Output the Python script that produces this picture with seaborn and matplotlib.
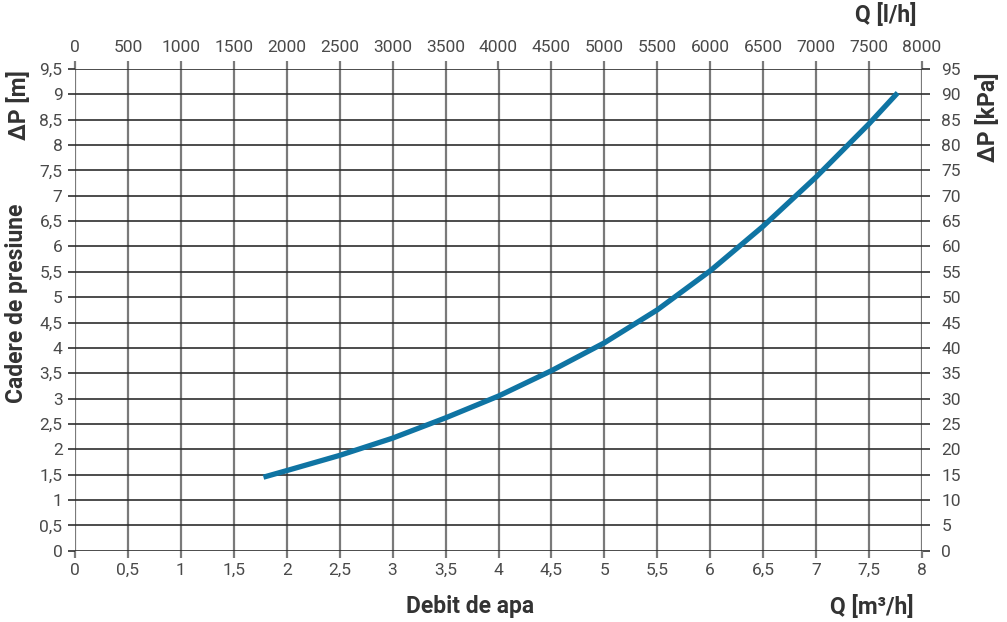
import matplotlib
matplotlib.use("Agg")
import matplotlib.pyplot as plt
import seaborn as sns
import numpy as np
import pandas as pd

# data
flow_m3h = [1.78, 2.0, 2.5, 3.0, 3.5, 4.0, 4.5, 5.0, 5.5, 6.0, 6.5, 7.0, 7.5, 7.77]
dp_m = [1.45, 1.58, 1.88, 2.22, 2.62, 3.05, 3.55, 4.1, 4.75, 5.52, 6.4, 7.37, 8.42, 9.03]

x_ticks = [0, 0.5, 1, 1.5, 2, 2.5, 3, 3.5, 4, 4.5, 5, 5.5, 6, 6.5, 7, 7.5, 8]
y_ticks = [0, 0.5, 1, 1.5, 2, 2.5, 3, 3.5, 4, 4.5, 5, 5.5, 6, 6.5, 7, 7.5, 8, 8.5, 9, 9.5]
top_ticks = [0, 500, 1000, 1500, 2000, 2500, 3000, 3500, 4000, 4500, 5000, 5500, 6000, 6500, 7000, 7500, 8000]
right_ticks = [0, 5, 10, 15, 20, 25, 30, 35, 40, 45, 50, 55, 60, 65, 70, 75, 80, 85, 90, 95]

sns.set_style("white")
plt.rcParams['font.family'] = ['Roboto', 'DejaVu Sans']

def fmt(v):
    s = ("%g" % v)
    return s.replace(".", ",")

df = pd.DataFrame({"Q": flow_m3h, "dP": dp_m})

fig = plt.figure(figsize=(10.07, 6.22), dpi=100)
ax = fig.add_axes([75/1007, 1 - 550.7/622, (922-75)/1007, (550.7-69)/622])

ax.set_xlim(0, 8)
ax.set_ylim(0, 9.5)

vcol = "#7a7a7a"
hcol = "#2e2e2e"
tick_col = "#4a4a4a"
tfs = 12.5

ax.set_xticks(x_ticks)
ax.set_yticks(y_ticks)
ax.set_xticklabels([fmt(v) for v in x_ticks])
ax.set_yticklabels([fmt(v) for v in y_ticks])
ax.xaxis.grid(True, color=vcol, linewidth=1.6)
ax.yaxis.grid(True, color=hcol, linewidth=1.2)
ax.set_axisbelow(True)
for s in ax.spines.values():
    s.set_visible(False)

ax.tick_params(axis="x", bottom=True, length=5, width=1.6, color=vcol, labelsize=tfs,
               labelcolor=tick_col, pad=4)
ax.tick_params(axis="y", left=True, length=5, width=1.2, color=hcol, labelsize=tfs,
               labelcolor=tick_col, pad=4)

sns.lineplot(data=df, x="Q", y="dP", ax=ax, color="#0f74a3", linewidth=3.8,
             solid_capstyle="butt")
ax.set_xlabel("")
ax.set_ylabel("")

top = ax.secondary_xaxis("top", functions=(lambda x: x * 1000, lambda x: x / 1000))
top.set_xticks(top_ticks)
top.set_xticklabels([str(v) for v in top_ticks])
top.tick_params(length=6, width=1.6, color=vcol, labelsize=tfs, labelcolor=tick_col, pad=4)
for s in top.spines.values():
    s.set_visible(False)

right = ax.secondary_yaxis("right", functions=(lambda y: y * 10, lambda y: y / 10))
right.set_yticks(right_ticks)
right.set_yticklabels([str(v) for v in right_ticks])
right.tick_params(length=6, width=1.2, color=hcol, labelsize=tfs, labelcolor=tick_col, pad=8)
for s in right.spines.values():
    s.set_visible(False)

lab = dict(fontsize=16.5, fontweight="bold", color="#333333")
fig.text(19/1007, 1 - 105/622, "ΔP [m]", rotation=90, ha="center", va="center", **lab)
fig.text(17/1007, 1 - 303/622, "Cadere de presiune", rotation=90, ha="center", va="center", **lab)
fig.text(988/1007, 1 - 117/622, "ΔP [kPa]", rotation=90, ha="center", va="center", **lab)
fig.text(886/1007, 1 - 15/622, "Q [l/h]", ha="center", va="center", **lab)
fig.text(470/1007, 1 - 607/622, "Debit de apa", ha="center", va="center", **lab)
fig.text(872/1007, 1 - 607/622, "Q [m³/h]", ha="center", va="center", **lab)

fig.savefig("out.png", dpi=100)
